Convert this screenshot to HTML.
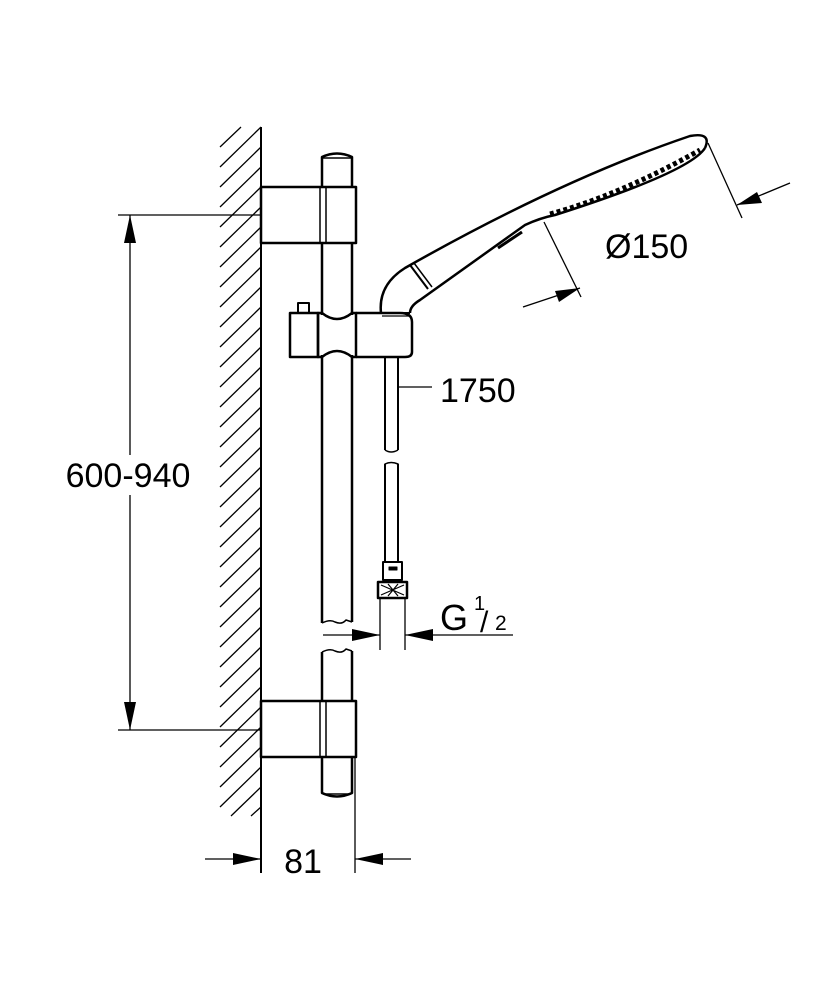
<!DOCTYPE html>
<html><head><style>
html,body{margin:0;padding:0;background:#fff;}
svg{display:block}
text{font-family:"Liberation Sans",Arial,sans-serif;fill:#000}
</style></head><body>
<svg width="834" height="1000" viewBox="0 0 834 1000" xmlns="http://www.w3.org/2000/svg">
<g stroke="#000" stroke-width="1.3">
<path d="M220,147 L241,127 M220,167 L261,127 M220,187 L261,147 M220,207 L261,167 M220,227 L261,187 M220,247 L261,207 M220,267 L261,227 M220,287 L261,247 M220,307 L261,267 M220,327 L261,287 M220,347 L261,307 M220,367 L261,327 M220,387 L261,347 M220,407 L261,367 M220,427 L261,387 M220,447 L261,407 M220,467 L261,427 M220,487 L261,447 M220,507 L261,467 M220,527 L261,487 M220,547 L261,507 M220,567 L261,527 M220,587 L261,547 M220,607 L261,567 M220,627 L261,587 M220,647 L261,607 M220,667 L261,627 M220,687 L261,647 M220,707 L261,667 M220,727 L261,687 M220,747 L261,707 M220,767 L261,727 M220,787 L261,747 M220,807 L261,767 M231,816 L261,787 M251,816 L261,807"/>
</g>
<g fill="none" stroke="#000" stroke-linejoin="round">
<line x1="261" y1="127" x2="261" y2="873" stroke-width="2"/>
<line x1="355" y1="757" x2="355" y2="873" stroke-width="1.3"/>
<path d="M322,187 L322,157 Q337,150 352,157 L352,187" stroke-width="2.5"/>
<line x1="323" y1="158" x2="351" y2="158" stroke-width="1.5"/>
<rect x="261" y="187" width="95" height="56" stroke-width="2.5"/>
<line x1="320" y1="187" x2="320" y2="243" stroke-width="1.5"/>
<line x1="326" y1="187" x2="326" y2="243" stroke-width="1.5"/>
<line x1="322" y1="243" x2="322" y2="315" stroke-width="2.5"/>
<line x1="352" y1="243" x2="352" y2="315" stroke-width="2.5"/>
<line x1="322" y1="355" x2="322" y2="623" stroke-width="2.5"/>
<line x1="352" y1="355" x2="352" y2="622" stroke-width="2.5"/>
<path d="M322,623 Q330,619 335,622 Q342,625 346,620 L352,622" stroke-width="1.5"/>
<path d="M322,652 Q330,648 335,651 Q342,654 346,649 L352,651" stroke-width="1.5"/>
<line x1="322" y1="652" x2="322" y2="701" stroke-width="2.5"/>
<line x1="352" y1="651" x2="352" y2="701" stroke-width="2.5"/>
<rect x="261" y="701" width="95" height="56" stroke-width="2.5"/>
<line x1="320" y1="701" x2="320" y2="757" stroke-width="1.5"/>
<line x1="326" y1="701" x2="326" y2="757" stroke-width="1.5"/>
<path d="M322,757 L322,793 Q337,800 352,793 L352,757" stroke-width="2.5"/>
<line x1="323" y1="794" x2="351" y2="794" stroke-width="1.5"/>
<rect x="298" y="303" width="11" height="10" stroke-width="2"/>
<rect x="290" y="313" width="28" height="44" stroke-width="2.5"/>
<path d="M318,313 L322,313 Q337,325 352,313 L356,313 L356,357 L352,357 Q337,345 322,357 L318,357 Z" stroke-width="2.5"/>
<path d="M356,313 L400,313 Q412,313 412,322 L412,352 Q412,357 405,357 L356,357" stroke-width="2.5"/>
<line x1="385" y1="357" x2="385" y2="450" stroke-width="2"/>
<line x1="398" y1="357" x2="398" y2="450" stroke-width="2"/>
<path d="M385,450 Q391,454 398,450" stroke-width="1.5"/>
<path d="M385,467 L385,464 Q391,461 398,464 L398,467" stroke-width="1.5"/>
<line x1="385" y1="464" x2="385" y2="562" stroke-width="2"/>
<line x1="398" y1="464" x2="398" y2="562" stroke-width="2"/>
<rect x="383" y="562" width="19" height="18" stroke-width="2"/>
<rect x="389" y="567" width="8" height="3" fill="#000" stroke-width="1"/>
<rect x="378" y="582" width="29" height="16" stroke-width="2.5"/>
<path d="M381,585 L404,595 M381,595 L404,585 M388,584 L398,596 M398,584 L388,596" stroke-width="1.2"/>
<line x1="380" y1="598" x2="380" y2="650" stroke-width="1.3"/>
<line x1="405" y1="598" x2="405" y2="650" stroke-width="1.3"/>
<path d="M381,313 Q378,285 405,268 Q560,180 690,136 Q712,132 705,148" stroke-width="2.5"/>
<path d="M705,148 Q690,172 555,215 Q540,218 525,225 L420,300 Q410,306 410,313" stroke-width="2.5"/>
<line x1="410" y1="265" x2="428" y2="289" stroke-width="2"/>
<line x1="414" y1="263" x2="432" y2="287" stroke-width="1.5"/>
<line x1="381" y1="313" x2="410" y2="313" stroke-width="2"/>
<line x1="382" y1="316" x2="409" y2="316" stroke-width="1.2"/>
<path d="M498,248 L522,232" stroke-width="3"/>
<path d="M550,214 Q620,195 700,150" stroke-width="5" stroke-dasharray="4,3"/>
<line x1="398" y1="387" x2="432" y2="387" stroke-width="1.3"/>
<line x1="544" y1="222" x2="581" y2="297" stroke-width="1.3"/>
<line x1="708" y1="143" x2="742" y2="218" stroke-width="1.3"/>
<line x1="523" y1="307" x2="580" y2="288" stroke-width="1.3"/>
<line x1="737" y1="205" x2="790" y2="183" stroke-width="1.3"/>
<line x1="118" y1="215" x2="261" y2="215" stroke-width="1.3"/>
<line x1="118" y1="730" x2="261" y2="730" stroke-width="1.3"/>
<line x1="130" y1="215" x2="130" y2="455" stroke-width="1.3"/>
<line x1="130" y1="495" x2="130" y2="730" stroke-width="1.3"/>
<line x1="205" y1="859" x2="261" y2="859" stroke-width="1.3"/>
<line x1="355" y1="859" x2="411" y2="859" stroke-width="1.3"/>
<line x1="323" y1="635" x2="380" y2="635" stroke-width="1.3"/>
<line x1="405" y1="635" x2="513" y2="635" stroke-width="1.3"/>
</g>
<g fill="#000" stroke="none">
<polygon points="130,215 124,243 136,243"/>
<polygon points="130,730 124,702 136,702"/>
<polygon points="261,859 233,853 233,865"/>
<polygon points="355,859 383,853 383,865"/>
<polygon points="380,635 352,629 352,641"/>
<polygon points="405,635 433,629 433,641"/>
<polygon points="580,288 555,291 559,302"/>
<polygon points="737,205 762,203 757,192"/>
</g>
<text x="128" y="487" font-size="34" text-anchor="middle">600-940</text>
<text x="303" y="873" font-size="34" text-anchor="middle">81</text>
<text x="440" y="402" font-size="34">1750</text>
<text x="605" y="258" font-size="34">Ø150</text>
<text x="440" y="630" font-size="36">G</text>
<text x="474" y="610" font-size="20">1</text>
<text x="480" y="632" font-size="30">/</text>
<text x="495" y="630" font-size="21">2</text>
</svg>
</body></html>
